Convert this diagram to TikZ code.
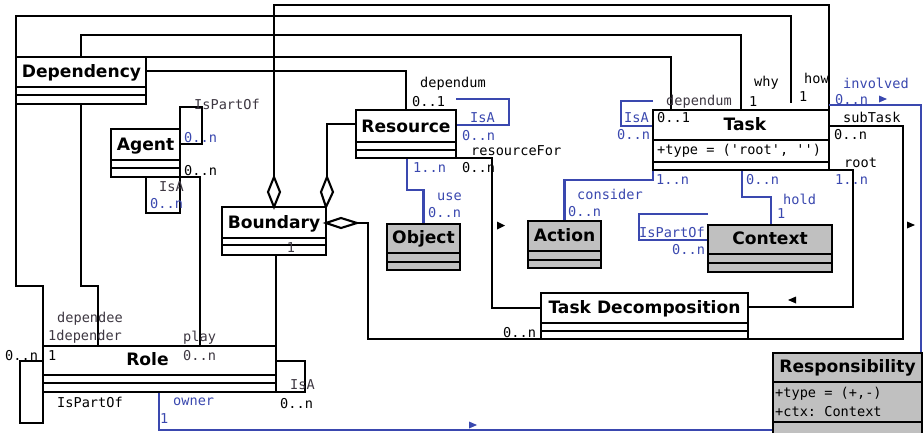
\documentclass[tikz,border=0pt]{standalone}
\usepackage{fontspec}
\setmainfont{DejaVu Sans}
\setmonofont{DejaVu Sans Mono}
\definecolor{ublue}{RGB}{58,72,175}
\definecolor{udim}{RGB}{62,56,66}
\definecolor{ugrey}{RGB}{192,192,192}
\tikzset{
  lw/.style={line width=2.1pt, line join=miter},
  bl/.style={line width=2.1pt, draw=ublue},
  clsbox/.style={draw, line width=2.1pt, rectangle, inner sep=0pt, outer sep=0pt, anchor=north west},
  clsname/.style={font=\fontsize{17.1}{18}\selectfont\bfseries, inner sep=0pt, anchor=base},
  lab/.style={font=\fontsize{13.6}{15}\selectfont\ttfamily, inner sep=0pt, anchor=west},
  blab/.style={lab, text=ublue},
  dlab/.style={lab, text=udim},
  dmd/.style={line width=2.1pt, fill=white},
}
\newcommand{\umlcls}[8]{%
  \node[clsbox, fill=#8, minimum width={(#4-#2)*1pt}, minimum height={(#5-#3)*1pt}] (#1) at (#2,#3) {};
  \draw[lw] (#2,#6) -- (#4,#6) (#2,#7) -- (#4,#7);
}
\begin{document}
\begin{tikzpicture}[x=1pt,y=-1pt]
\useasboundingbox (0,0) rectangle (924,432);
\fill[white] (0,0) rectangle (924,432);

% ---- classes ----
\umlcls{dep}{16}{57}{146}{104}{87}{95}{white}
\umlcls{agent}{111}{129}{180}{177}{160}{168}{white}
\umlcls{res}{356}{110}{456}{158}{142}{150}{white}
\umlcls{task}{653}{110}{829}{170}{140}{162}{white}
\umlcls{bnd}{222}{207}{326}{255}{238}{245}{white}
\umlcls{obj}{387}{224}{460}{270}{253}{262}{ugrey}
\umlcls{act}{528}{221}{601}{268}{251}{260}{ugrey}
\umlcls{ctx}{708}{225}{832}{272}{254}{263}{ugrey}
\umlcls{tdec}{541}{293}{748}{339}{323}{331}{white}
\umlcls{role}{43}{346}{276}{392}{375}{383}{white}

\coordinate (howend) at (791,103);

% ---- black connectors ----
\draw[lw] (dep.north west) -- (16,16) -| (howend);
\draw[lw] ([xshift=65pt]dep.north west) -- (81,35) -| (task.north);
\draw[lw] (dep.north east) -| ([xshift=18pt]task.north west);
\draw[lw] ([yshift=-14pt]dep.north east) -| (res.north);
\draw[lw] (dep.south west) -- (16,286) -| (role.north west);
\draw[lw] ([xshift=65pt]dep.south west) -- (81,286) -| ([xshift=55pt]role.north west);
\draw[lw] (agent.south east) -| ([xshift=157pt]role.north west);
\draw[lw] (agent.north east) -- (180,107) -- (202,107) -- (202,144) -- ([yshift=-15pt]agent.north east);
\draw[lw] ([xshift=35pt]agent.south west) -- (146,213) -| (agent.south east);
\draw[lw] (274,177) -- (274,5) -| (task.north east);
\draw[lw] (327,177) |- ([yshift=-14pt]res.north west);
\draw[lw] (357,223) -- (368,223) |- (tdec.south west);
\draw[lw] ([xshift=54pt]bnd.south west) -- (role.north east);
\draw[lw] (res.south east) -- (492,158) |- ([yshift=-15pt]tdec.north west);
\draw[lw] (task.south east) -- (853,170) |- ([yshift=-14pt]tdec.north east);
\draw[lw] ([yshift=-16pt]task.north east) -- (903,126) |- (tdec.south east);
\draw[lw] ([yshift=-15pt]role.north west) -- (20,361) -- (20,423) -- (43,423) -- (role.south west);
\draw[lw] ([yshift=-15pt]role.north east) -- (305,361) -- (305,392) -- (role.south east);

% ---- blue connectors ----
\draw[bl] ([yshift=5pt]task.north east) -- (921,105) -- (921,430) -| ([xshift=116pt]role.south west);
\draw[bl] ([yshift=11pt]res.north east) -- (509,99) -- (509,125) -- ([yshift=-15pt]res.north east);
\draw[bl] ([xshift=51pt]res.south west) -- (407,190) -| (obj.north);
\draw[bl] ([yshift=9pt]task.north west) -- (621,101) -- (621,126) -- ([yshift=-16pt]task.north west);
\draw[bl] (task.south west) -- (653,180) -| (act.north);
\draw[bl] ([xshift=89pt]task.south west) -- (742,197) -| ([xshift=63pt]ctx.north west);
\draw[bl] ([yshift=11pt]ctx.north west) -- (639,214) -- (639,240) -- ([yshift=-15pt]ctx.north west);

% redraw class borders over connectors
\foreach \n in {dep,agent,res,task,bnd,obj,act,ctx,tdec,role}{
  \draw[line width=2.1pt] (\n.north west) rectangle (\n.south east);
}

% Responsibility (over the blue line)
\umlcls{resp}{773}{353}{922}{445}{382}{422}{ugrey}

% ---- diamonds ----
\draw[dmd] (bnd.north) -- (280,192) -- (274,177) -- (268,192) -- cycle;
\draw[dmd] (bnd.north east) -- (333,192) -- (327,177) -- (321,192) -- cycle;
\draw[dmd] ([yshift=-16pt]bnd.north east) -- (341,218) -- (357,223) -- (341,228) -- cycle;

% ---- navigation triangles ----
\fill (497,221.5) -- (505,225.5) -- (497,229.5) -- cycle;
\fill (796,296.5) -- (788,300) -- (796,303.5) -- cycle;
\fill (907,221.5) -- (915,225) -- (907,228.5) -- cycle;
\fill[ublue] (879,95.5) -- (887,99) -- (879,102.5) -- cycle;
\fill[ublue] (469,421.5) -- (477,425) -- (469,428.5) -- cycle;

% ---- class names ----
\node[clsname] (dep-n) at (81.5,77.5) {Dependency};
\node[clsname] (agent-n) at (145.5,150.5) {Agent};
\node[clsname] (res-n) at (406,132.5) {Resource};
\node[clsname] (task-n) at (745,130.5) {Task};
\node[clsname] (bnd-n) at (274,228.5) {Boundary};
\node[clsname] (obj-n) at (423.5,243.5) {Object};
\node[clsname] (act-n) at (564.5,241.5) {Action};
\node[clsname] (ctx-n) at (770,244.5) {Context};
\node[clsname] (tdec-n) at (644.5,313.5) {Task Decomposition};
\node[clsname] (role-n) at (147.5,365.5) {Role};
\node[clsname] (resp-n) at (847.5,372.5) {Responsibility};

% ---- attributes ----
\node[lab] (task-a) at (657,151) {+type = (\char39 root\char39, \char39\char39)};
\node[lab] (resp-a1) at (775,394) {+type = (+,-)};
\node[lab] (resp-a2) at (775,412) {+ctx: Context};

% ---- black labels ----
\node[lab] (l1) at (420,84) {dependum};
\node[lab] (l2) at (412,102) {0..1};
\node[lab] (l3) at (471,151) {resourceFor};
\node[lab] (l4) at (462,168) {0..n};
\node[lab] (l5) at (754,83) {why};
\node[lab] (l6) at (749,102) {1};
\node[lab] (l7) at (804,78) {how};
\node[lab] (l8) at (799,97) {1};
\node[lab] (l9) at (657,118) {0..1};
\node[lab] (l10) at (843,117) {subTask};
\node[lab] (l11) at (834,135) {0..n};
\node[lab] (l12) at (844,163) {root};
\node[lab] (l13) at (184,171) {0..n};
\node[lab] (l14) at (503,333) {0..n};
\node[lab] (l15) at (5,356) {0..n};
\node[lab] (l16) at (48,356) {1};
\node[lab] (l17) at (57,402) {IsPartOf};
\node[lab] (l18) at (280,404) {0..n};

% ---- dim labels ----
\node[dlab] (d1) at (666,102) {dependum};
\node[dlab] (d2) at (194,104) {IsPartOf};
\node[dlab] (d3) at (159,187) {IsA};
\node[dlab] (d4) at (57,319) {dependee};
\node[dlab] (d5) at (48,337) {1depender};
\node[dlab] (d6) at (183,338) {play};
\node[dlab] (d7) at (183,356) {0..n};
\node[dlab] (d8) at (290,385) {IsA};
\node[dlab, anchor=center] (d9) at (291,248) {1};

% ---- blue labels ----
\node[blab] (b1) at (835,180) {1..n};
\node[blab] (b2) at (184,138) {0..n};
\node[blab] (b3) at (150,204) {0..n};
\node[blab] (b4) at (470,118) {IsA};
\node[blab] (b5) at (462,136) {0..n};
\node[blab] (b6) at (413,168) {1..n};
\node[blab] (b7) at (437,197) {use};
\node[blab] (b8) at (428,213) {0..n};
\node[blab] (b9) at (624,118) {IsA};
\node[blab] (b10) at (617,135) {0..n};
\node[blab] (b11) at (577,194) {consider};
\node[blab] (b12) at (568,212) {0..n};
\node[blab] (b13) at (656,180) {1..n};
\node[blab] (b14) at (746,180) {0..n};
\node[blab] (b15) at (783,199) {hold};
\node[blab] (b16) at (777,214) {1};
\node[blab] (b17) at (639,232) {IsPartOf};
\node[blab] (b18) at (672,250) {0..n};
\node[blab] (b19) at (843,83) {involved};
\node[blab] (b20) at (835,100) {0..n};
\node[blab] (b21) at (173,402) {owner};
\node[blab] (b22) at (160,419) {1};
\end{tikzpicture}
\end{document}
